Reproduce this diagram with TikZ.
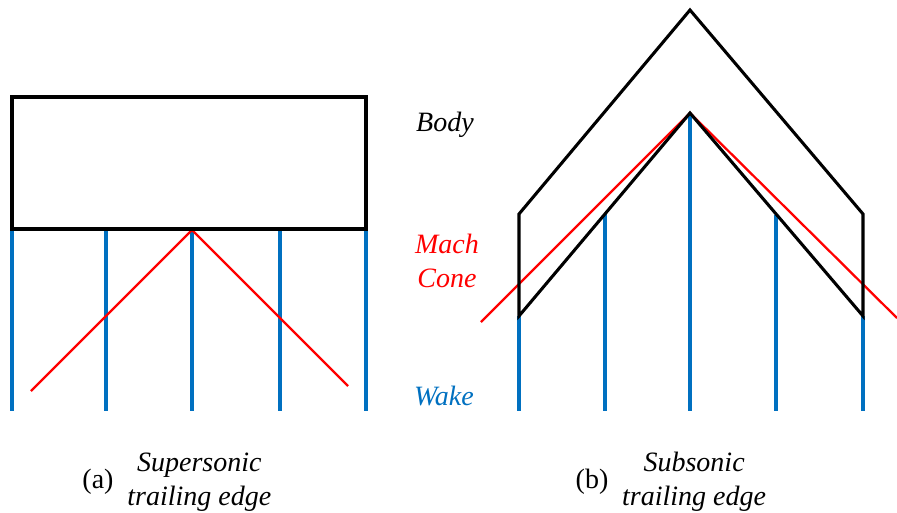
\documentclass[tikz,border=0pt]{standalone}
\usepackage{fontspec}
\setmainfont{Liberation Serif}
\usetikzlibrary{positioning, calc}
\definecolor{wakeblue}{RGB}{0,112,192}
\tikzset{
  body/.style ={draw=black, line width=2.3pt, line join=miter},
  wake/.style ={draw=wakeblue, line width=2.5pt},
  mach/.style ={draw=red, line width=1.7pt},
  lab/.style  ={font=\fontsize{21}{25.5}\selectfont\itshape, align=center, inner sep=0pt},
  capt/.style ={font=\fontsize{21}{25.5}\selectfont, inner sep=0pt},
}
\begin{document}
\begin{tikzpicture}[x=0.75pt, y=-0.75pt]
  \useasboundingbox (0,0) rectangle (897,512);
  % (a) supersonic
  \coordinate (apexA) at (192,230);
  \foreach \x in {12,106,192,280,366} \draw[wake] (\x,230) -- (\x,411);
  \draw[mach] (31,391) -- (apexA) -- (348,386);
  \draw[body] (12,97) rectangle (366,229);
  % (b) subsonic
  \coordinate (tip)   at (690,10);
  \coordinate (apexB) at (690,113);
  \coordinate (lOut)  at (519,214);
  \coordinate (lIn)   at (519,316);
  \coordinate (rOut)  at (863,214);
  \coordinate (rIn)   at (863,316);
  \foreach \x/\y in {519/316,605/214,690/113,776/215,863/316} \draw[wake] (\x,\y) -- (\x,411);
  \draw[mach] (481,322) -- (apexB) -- (897,318);
  \draw[body] (lOut) -- (tip) -- (rOut) -- (rIn) -- (apexB) -- (lIn) -- cycle;
  % labels
  \node[lab, anchor=base] (bodyL) at (445,131) {Body};
  \node[lab, text=red, anchor=base] (machL) at (447,253) {Mach};
  \node[lab, text=red, anchor=base] (coneL) at (447,287) {Cone};
  \node[lab, text=wakeblue, anchor=base] (wakeL) at (444,405) {Wake};
  \node[capt] (capA) at (98,482) {(a)};
  \node[lab, right=10pt of capA] (txtA) {Supersonic\\trailing edge};
  \node[capt] (capB) at (592,482) {(b)};
  \node[lab, right=10pt of capB] (txtB) {Subsonic\\trailing edge};
\end{tikzpicture}
\end{document}
